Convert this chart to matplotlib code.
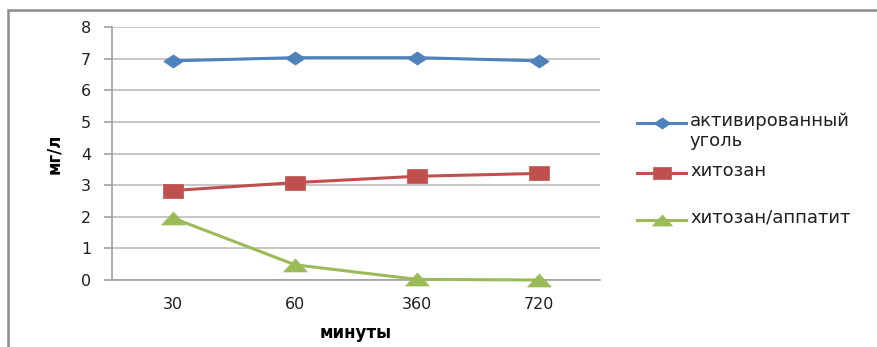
import matplotlib.pyplot as plt
from matplotlib.lines import Line2D
from matplotlib.patches import Rectangle

# Data
minutes = ['30', '60', '360', '720']
carbon = [6.93, 7.03, 7.03, 6.93]
chitosan = [2.83, 3.08, 3.28, 3.37]
chitosan_apatite = [1.96, 0.48, 0.02, 0.0]

labels = ['активированный\nуголь', 'хитозан', 'хитозан/аппатит']
colors = ['#4F81BD', '#C0504D', '#9BBB59']

# the original picture is stretched sideways, so the markers are too
wide_diamond = [(-1, 0), (0, 0.68), (1, 0), (0, -0.68), (-1, 0)]
wide_square = [(-1, -0.65), (1, -0.65), (1, 0.65), (-1, 0.65), (-1, -0.65)]
wide_triangle = [(-1, -0.55), (1, -0.55), (0, 0.55), (-1, -0.55)]
markers = [wide_diamond, wide_square, wide_triangle]
msizes = [14, 14.5, 17]

plt.rcParams['font.family'] = ['DejaVu Sans']

W, H = 877, 347
fig = plt.figure(figsize=(W / 100, H / 100), dpi=100)
ax = fig.add_axes([112 / W, 1 - 280 / H, 488 / W, (280 - 27) / H])

x = list(range(len(minutes)))
series = [carbon, chitosan, chitosan_apatite]
for vals, c, m, ms in zip(series, colors, markers, msizes):
    ax.plot(x, vals, color=c, marker=m, markersize=ms, linewidth=2.2,
            markeredgecolor=c, markeredgewidth=0.5, zorder=3, clip_on=False)

ax.set_xlim(-0.5, len(minutes) - 0.5)
ax.set_ylim(0, 8)
ax.set_yticks(range(0, 9))
ax.set_xticks(x)
ax.set_xticklabels(minutes)
ax.yaxis.grid(True, color='#BDBDBD', linewidth=1.2)
ax.set_axisbelow(True)
for s in ['top', 'right']:
    ax.spines[s].set_visible(False)
ax.spines['left'].set_color('#A0A0A0')
ax.spines['bottom'].set_color('#A0A0A0')
ax.spines['left'].set_linewidth(1.2)
ax.spines['bottom'].set_linewidth(1.2)
ax.tick_params(axis='y', length=6, width=1.2, color='#A0A0A0', pad=9,
               labelsize=11.5, labelcolor='#202020')
ax.tick_params(axis='x', length=0, pad=12, labelsize=11.5, labelcolor='#202020')

ax.set_ylabel('мг/л', fontsize=12, fontweight='bold', labelpad=13)
ax.set_xlabel('минуты', fontsize=12, fontweight='bold', labelpad=9)

# legend drawn by hand, Excel style
leg_y = [122.7, 172.7, 220.0]
for lab, c, m, ms, yp in zip(labels, colors, markers, msizes, leg_y):
    yf = 1 - yp / H
    fig.add_artist(Line2D([637 / W, 686 / W], [yf, yf], color=c, linewidth=2.2,
                          transform=fig.transFigure))
    fig.add_artist(Line2D([661.5 / W], [yf], marker=m, markersize=ms * 0.85,
                          color=c, markeredgewidth=0.5,
                          transform=fig.transFigure))
    fig.text(690 / W, 1 - (yp - 11) / H, lab, fontsize=13, va='top',
             ha='left', color='#202020', linespacing=1.15)

# chart area border (cropped on right and bottom)
fig.add_artist(Rectangle((8 / W, -0.1), 1.2, 1 - 10 / H + 0.1,
                         transform=fig.transFigure, fill=False,
                         edgecolor='#8C8C8C', linewidth=1.8))

fig.savefig('out.png', dpi=100)
